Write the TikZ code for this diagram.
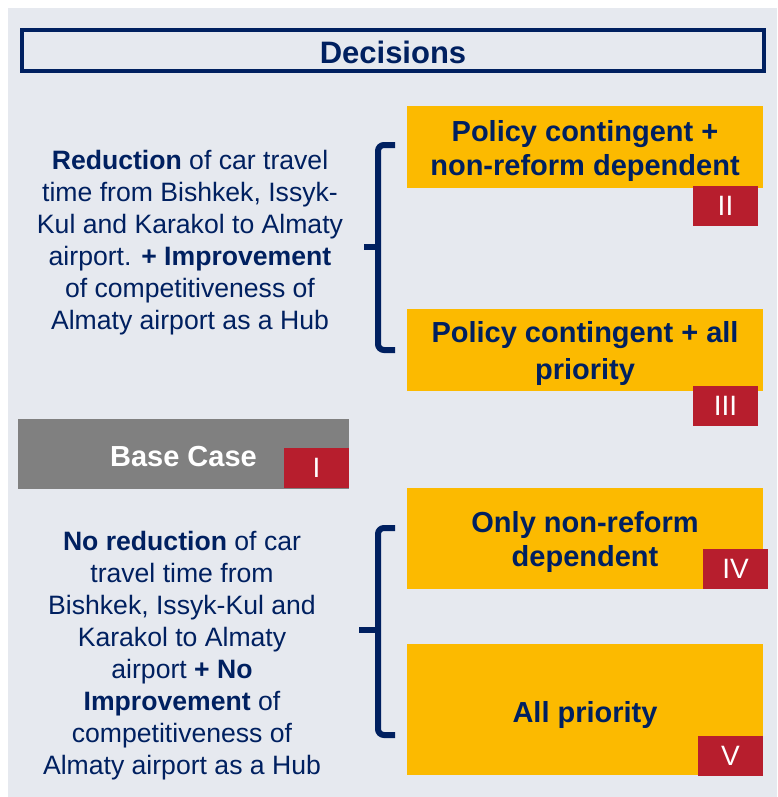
\documentclass[tikz,border=0pt]{standalone}
\usepackage{fontspec}
\setmainfont{Liberation Sans}

\definecolor{navy}{RGB}{0,32,96}
\definecolor{amber}{RGB}{252,186,0}
\definecolor{crimson}{RGB}{183,30,45}
\definecolor{panel}{RGB}{230,233,239}
\definecolor{slate}{RGB}{128,128,128}

\tikzset{
  choicebox/.style={fill=amber, inner sep=0pt, minimum width=356pt},
  choicetext/.style={text=navy, align=center, inner sep=0pt,
    font=\bfseries\fontsize{29}{34}\selectfont},
  numtag/.style={fill=crimson, text=white, inner sep=0pt,
    minimum width=65pt, minimum height=40pt, font=\fontsize{28}{32}\selectfont},
  effect/.style={text=navy, align=center, inner sep=0pt,
    font=\fontsize{26.6}{32}\selectfont},
  bracepath/.style={draw=navy, line width=6pt, rounded corners=6pt},
}

\begin{document}
\begin{tikzpicture}[x=1pt,y=-1pt]
    \useasboundingbox (0,0) rectangle (777,797);
    \fill[panel] (8,8) rectangle (777,797);
    % heading
    \node[draw=navy, line width=4pt, minimum width=742pt, minimum height=41pt,
      inner sep=0pt] (title) at (393,50.5) {};
    \node[text=navy, font=\bfseries\fontsize{31}{36}\selectfont]
      (titletext) at (393,52.5) {Decisions};
    % upper case: reduction + improvement
    \node[effect] (gain) at (190,243) {\textbf{Reduction} of car travel\\
      time from Bishkek, Issyk-\\Kul and Karakol to Almaty\\
      airport. \textbf{+ Improvement}\\of competitiveness of\\
      Almaty airport as a Hub};
    \node[choicebox, minimum height=82pt] (c2) at (585,147) {};
    \node[choicetext] (c2text) at (585,151)
      {Policy contingent +\\non-reform dependent};
    \node[choicebox, minimum height=82pt] (c3) at (585,350) {};
    \node[choicetext] (c3text) at (585,353)
      {Policy contingent + all\\[3pt]priority};
    \node[numtag] (t2) at (725.5,206) {II};
    \node[numtag] (t3) at (725.5,406) {III};
    \draw[bracepath] (395,145) -- (378,145) -- (378,350) -- (395,350);
    \draw[bracepath, rounded corners=0pt] (378,247) -- (364,247);
    % base case
    \node[fill=slate, minimum width=331pt, minimum height=70pt,
      inner sep=0pt] (base) at (183.5,454) {};
    \node[text=white, font=\bfseries\fontsize{29}{34}\selectfont]
      (basetext) at (183.5,457) {Base Case};
    \node[numtag] (t1) at (316.5,468) {I};
    % lower case: no reduction
    \node[effect] (nogain) at (182,655.5) {\textbf{No reduction} of car\\
      travel time from\\Bishkek, Issyk-Kul and\\Karakol to Almaty\\
      airport \textbf{+ No}\\\textbf{Improvement} of\\
      competitiveness of\\Almaty airport as a Hub};
    \node[choicebox, minimum height=101pt] (c4) at (585,538.5) {};
    \node[choicetext] (c4text) at (585,541.5) {Only non-reform\\dependent};
    \node[choicebox, minimum height=131pt] (c5) at (585,709.5) {};
    \node[choicetext] (c5text) at (585,714.5) {All priority};
    \node[numtag] (t4) at (735.5,569) {IV};
    \node[numtag] (t5) at (730.5,756) {V};
    \draw[bracepath] (395,528) -- (378,528) -- (378,735) -- (395,735);
    \draw[bracepath, rounded corners=0pt] (378,630) -- (359,630);
\end{tikzpicture}
\end{document}
